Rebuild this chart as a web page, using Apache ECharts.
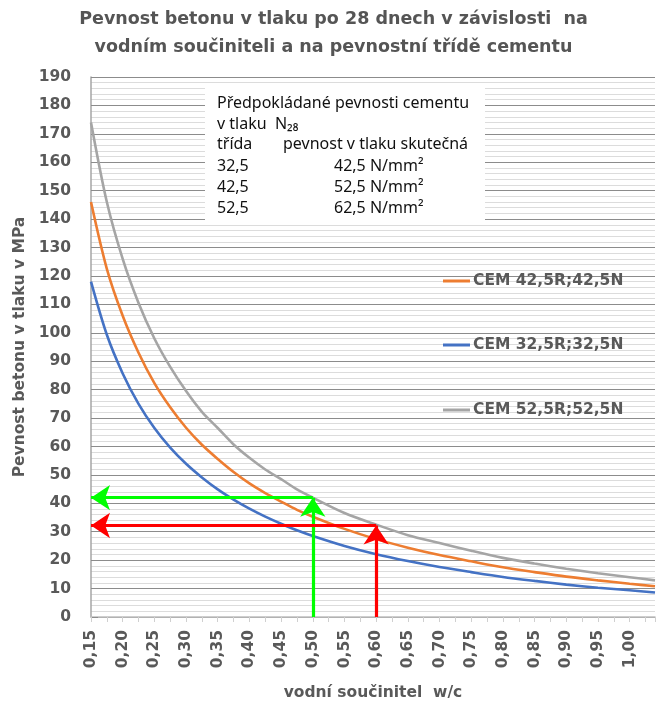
<!DOCTYPE html>
<html><head><meta charset="utf-8">
<script src="https://cdn.jsdelivr.net/npm/echarts@6/dist/echarts.min.js"></script>
<style>html,body{margin:0;padding:0;background:#fff}#c{width:667px;height:720px}</style>
</head><body><div id="c"></div>
<script>
// water/cement ratio (x) and compressive strength (MPa)
const wcValues = [0.15,0.175,0.20,0.225,0.25,0.275,0.30,0.325,0.35,0.375,0.40,0.425,0.45,0.475,0.50,0.55,0.60,0.65,0.70,0.75,0.80,0.85,0.90,0.95,1.00,1.04];
const cem52 = [174,146,126,110.5,98,88,79.5,72.2,66.5,60.7,56,51.9,48.5,44.9,42,36.6,32.5,28.8,26,23.3,20.8,18.8,17,15.4,14,12.9];
const cem42 = [146,122.5,106,93,82.3,73.8,66.6,60.6,55.6,51,47,43.6,40.6,37.7,35.3,31,27.4,24.4,21.8,19.6,17.5,15.8,14.2,12.9,11.7,10.8];
const cem32 = [118,99.3,85.7,75,66.5,59.6,53.9,49.1,44.9,41.3,38.1,35.3,32.8,30.5,28.5,25,22.1,19.7,17.6,15.8,14.1,12.7,11.4,10.3,9.4,8.6];
const seriesNames = ['CEM 42,5R;42,5N','CEM 32,5R;32,5N','CEM 52,5R;52,5N'];
const seriesColors = ['#ED7D31','#4472C4','#A5A5A5'];
// arrows: [w/c, strength]
const greenArrow = [0.50, 42];
const redArrow = [0.60, 32.2];
const xMin = 0.15, xMax = 1.04;

const FB = 'DejaVu Sans';
const FN = 'Noto Sans';
const grey = '#595959';
function pairs(ys){ return wcValues.map((x,i)=>[x, ys[i]]); }
function arrowLines(a, color){
  return {
    type:'lines', coordinateSystem:'cartesian2d', z:5, silent:true,
    symbol:['none','arrow'], symbolSize:[0,19],
    lineStyle:{color:color, width:3.2, opacity:1, curveness:0},
    data:[
      {coords:[[a[0],0],[a[0],a[1]]]},
      {coords:[[a[0],a[1]],[xMin,a[1]]]}
    ]
  };
}
function t(x,y,s){ return {type:'text', z:11, x:x, y:y, style:{text:s, fontFamily:FN, fontSize:16, fill:'#111', verticalAlign:'middle'}}; }
const dataSets = [cem42, cem32, cem52];
const chart = echarts.init(document.getElementById('c'));
const legendTops = [273, 337, 402];
chart.setOption({
  animation:false,
  title:{
    text:'Pevnost betonu v tlaku po 28 dnech v závislosti  na\nvodním součiniteli a na pevnostní třídě cementu',
    left:'center', top:0,
    textStyle:{fontFamily:FB, fontWeight:'bold', fontSize:17.5, color:'#555555', lineHeight:28}
  },
  legend: seriesNames.map((n,i)=>({
    data:[n], left:443, top:legendTops[i], orient:'vertical', padding:0,
    icon:'rect', itemWidth:27, itemHeight:3, itemGap:0,
    textStyle:{fontFamily:FB, fontWeight:'bold', fontSize:15.5, color:grey, padding:[0,0,0,-2]}
  })),
  grid:{left:91, right:12, top:77, bottom:103},
  xAxis:{
    type:'value', min:xMin, max:xMax, interval:0.05,
    name:'vodní součinitel  w/c', nameLocation:'middle', nameGap:68,
    nameTextStyle:{fontFamily:FB, fontWeight:'bold', fontSize:15.5, color:grey},
    axisLine:{show:true, onZero:false, lineStyle:{color:'#bfbfbf', width:1.5}},
    axisTick:{show:true, length:5, lineStyle:{color:'#d0d0d0'}},
    minorTick:{show:true, splitNumber:2, length:5, lineStyle:{color:'#d0d0d0'}},
    splitLine:{show:false},
    axisLabel:{rotate:90, margin:13, showMaxLabel:false, fontFamily:FB, fontWeight:'bold', fontSize:15.5, color:grey,
      formatter:v=>v.toFixed(2).replace('.',',')}
  },
  yAxis:{
    type:'value', min:0, max:190, interval:10,
    name:'Pevnost betonu v tlaku v MPa', nameLocation:'middle', nameGap:56,
    nameTextStyle:{fontFamily:FB, fontWeight:'bold', fontSize:15.5, color:grey},
    axisLine:{show:true, lineStyle:{color:'#a6a6a6', width:1.5}},
    axisTick:{show:true, inside:true, length:7, lineStyle:{color:'#8c8c8c'}},
    splitLine:{show:true, lineStyle:{color:'#8c8c8c', width:1}},
    minorTick:{show:false, splitNumber:5},
    minorSplitLine:{show:true, lineStyle:{color:'#dcdcdc', width:1}},
    axisLabel:{margin:20, fontFamily:FB, fontWeight:'bold', fontSize:15.5, color:grey}
  },
  graphic:[
    {type:'rect', z:10, shape:{x:205, y:85, width:280, height:140}, style:{fill:'#ffffff'}},
    t(217,103,'Předpokládané pevnosti cementu'),
    t(217,124,'v tlaku  N₂₈'),
    t(217,144,'třída'),
    t(283,144,'pevnost v tlaku skutečná'),
    t(217,166,'32,5'), t(334,166,'42,5 N/mm²'),
    t(217,187,'42,5'), t(334,187,'52,5 N/mm²'),
    t(217,208,'52,5'), t(334,208,'62,5 N/mm²')
  ],
  series: seriesNames.map((n,i)=>({
    name:n, type:'line', data:pairs(dataSets[i]), showSymbol:false, smooth:0.3,
    lineStyle:{color:seriesColors[i], width:2.6}, itemStyle:{color:seriesColors[i]}, z:3
  })).concat([arrowLines(greenArrow,'#00FF00'), arrowLines(redArrow,'#FF0000')])
});
</script></body></html>
